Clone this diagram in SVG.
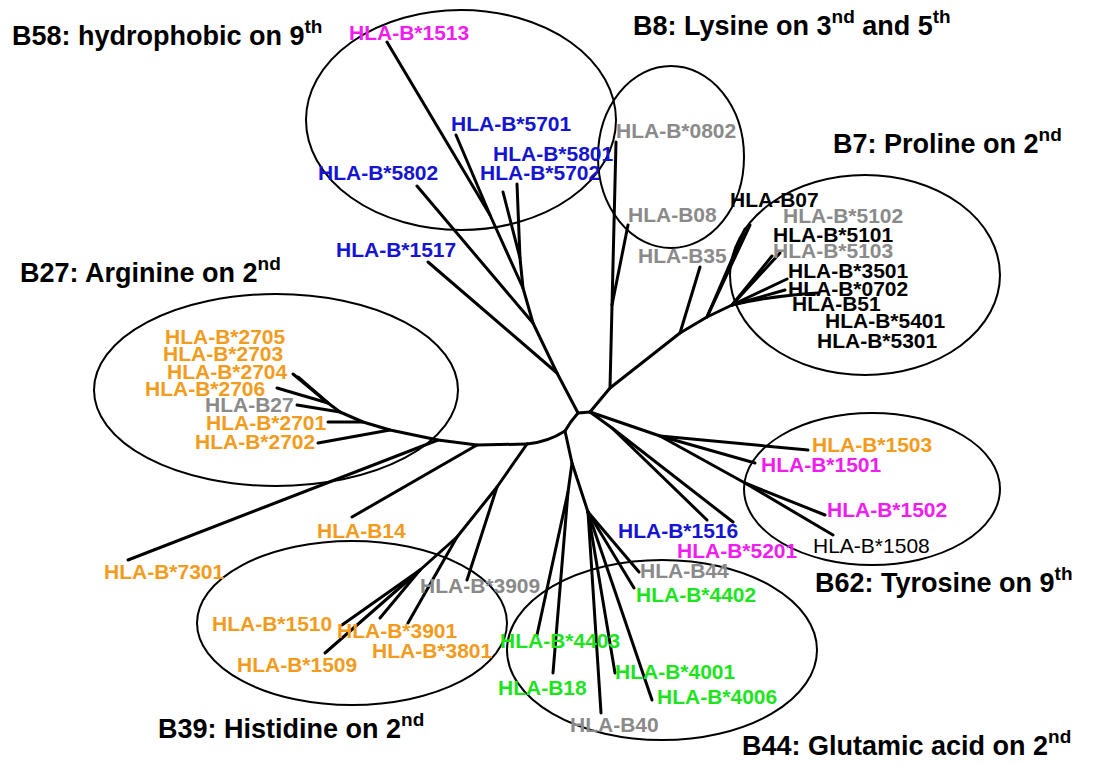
<svg xmlns="http://www.w3.org/2000/svg" width="1093" height="765" viewBox="0 0 1093 765">
<style>
text{font-family:"Liberation Sans",Arial,Helvetica,sans-serif;font-weight:bold}
.t{font-size:27px;fill:#000}
.l{font-size:21px}
.sup{font-size:19px}
.or{fill:#f29b1d}.bl{fill:#1414d2}.mg{fill:#f01cf0}.gr{fill:#1ee41e}.gy{fill:#8a8a8a}.bk{fill:#000}
.reg{font-weight:normal}
.ell{fill:none;stroke:#000;stroke-width:2}
#edges path{fill:none;stroke:#000;stroke-width:3;stroke-linecap:round;stroke-linejoin:round}
</style>
<rect width="1093" height="765" fill="#fff"/>
<g id="clusters">
<ellipse class="ell" cx="461" cy="120" rx="155" ry="110"/>
<ellipse class="ell" cx="671" cy="157" rx="73" ry="91"/>
<ellipse class="ell" cx="865" cy="275" rx="135" ry="100"/>
<ellipse class="ell" cx="276" cy="390" rx="182" ry="96"/>
<ellipse class="ell" cx="352" cy="623" rx="155" ry="82"/>
<ellipse class="ell" cx="662" cy="650" rx="155" ry="90"/>
<ellipse class="ell" cx="872" cy="489" rx="128" ry="76"/>
</g>
<g id="edges">
<path d="M578 413 L590 412"/>
<path d="M578 413 Q570 422 565 431"/>
<path d="M565 431 Q548 442 527 444"/>
<path d="M578 413 L557 373 L533 323 L523 288 L490 215 L387 42"/>
<path d="M490 215 L456 135"/>
<path d="M523 288 L520 258 L503 192"/>
<path d="M520 258 L517 184"/>
<path d="M533 323 L417 186"/>
<path d="M557 373 L428 262"/>
<path d="M590 412 L610 388 L616 142"/>
<path d="M612 305 L628 225"/>
<path d="M610 388 L680 333 L700 267"/>
<path d="M680 333 L707 317 L750 225"/>
<path d="M707 317 L745 229"/>
<path d="M707 317 L732 305 L780 253"/>
<path d="M732 305 L772 256"/>
<path d="M732 305 L787 279"/>
<path d="M732 305 L785 290"/>
<path d="M732 305 Q770 296 818 293"/>
<path d="M590 412 L660 436 L808 450"/>
<path d="M660 436 L755 463"/>
<path d="M660 436 L745 483 L825 515"/>
<path d="M745 483 L833 535"/>
<path d="M590 412 L612 428 L707 520"/>
<path d="M612 428 L733 522"/>
<path d="M527 444 L477 445 L438 440 L390 430 L363 422 L340 412 L328 403 L293 374"/>
<path d="M328 403 L298 377"/>
<path d="M328 403 L277 388"/>
<path d="M340 412 L297 405"/>
<path d="M363 422 L328 422"/>
<path d="M390 430 L318 443"/>
<path d="M438 440 L128 560"/>
<path d="M477 445 L352 517"/>
<path d="M527 444 L497 487 L467 580"/>
<path d="M497 487 L457 537 L408 623"/>
<path d="M457 537 L420 570 L380 618"/>
<path d="M420 570 L342 625"/>
<path d="M420 570 L325 653"/>
<path d="M565 431 L572 463 L568 492 L537 635"/>
<path d="M568 492 L553 673"/>
<path d="M572 463 L588 512 L601 713"/>
<path d="M588 512 L615 673"/>
<path d="M588 512 L652 700"/>
<path d="M588 512 L639 572"/>
<path d="M588 512 L634 588"/>
</g>
<g id="title-b58"><text class="t" x="12" y="45">B58: hydrophobic on 9<tspan class="sup" dy="-12">th</tspan></text></g>
<g id="title-b8"><text class="t" x="633" y="35">B8: Lysine on 3<tspan class="sup" dy="-12">nd</tspan><tspan dy="12"> and 5</tspan><tspan class="sup" dy="-12">th</tspan></text></g>
<g id="title-b7"><text class="t" x="833" y="153">B7: Proline on 2<tspan class="sup" dy="-12">nd</tspan></text></g>
<g id="title-b27"><text class="t" x="20" y="282">B27: Arginine on 2<tspan class="sup" dy="-12">nd</tspan></text></g>
<g id="title-b39"><text class="t" x="158" y="738">B39: Histidine on 2<tspan class="sup" dy="-12">nd</tspan></text></g>
<g id="title-b44"><text class="t" x="742" y="755">B44: Glutamic acid on 2<tspan class="sup" dy="-12">nd</tspan></text></g>
<g id="title-b62"><text class="t" x="815" y="592">B62: Tyrosine on 9<tspan class="sup" dy="-12">th</tspan></text></g>
<g id="n1513"><text class="l mg" x="349" y="40">HLA-B*1513</text></g>
<g id="n5701"><text class="l bl" x="451" y="131">HLA-B*5701</text></g>
<g id="n5801"><text class="l bl" x="493" y="161">HLA-B*5801</text></g>
<g id="n5702"><text class="l bl" x="480" y="180">HLA-B*5702</text></g>
<g id="n5802"><text class="l bl" x="318" y="180">HLA-B*5802</text></g>
<g id="n1517"><text class="l bl" x="336" y="257">HLA-B*1517</text></g>
<g id="n0802"><text class="l gy" x="616" y="138">HLA-B*0802</text></g>
<g id="nB08"><text class="l gy" x="628" y="222">HLA-B08</text></g>
<g id="nB35"><text class="l gy" x="638" y="263">HLA-B35</text></g>
<g id="nB07"><text class="l bk" x="730" y="207">HLA-B07</text></g>
<g id="n5102"><text class="l gy" x="783" y="223">HLA-B*5102</text></g>
<g id="n5101"><text class="l bk" x="773" y="242">HLA-B*5101</text></g>
<g id="n5103"><text class="l gy" x="773" y="258">HLA-B*5103</text></g>
<g id="n3501"><text class="l bk" x="788" y="278">HLA-B*3501</text></g>
<g id="n0702"><text class="l bk" x="788" y="296">HLA-B*0702</text></g>
<g id="nB51"><text class="l bk" x="792" y="311">HLA-B51</text></g>
<g id="n5401"><text class="l bk" x="825" y="328">HLA-B*5401</text></g>
<g id="n5301"><text class="l bk" x="817" y="348">HLA-B*5301</text></g>
<g id="n2705"><text class="l or" x="165" y="344">HLA-B*2705</text></g>
<g id="n2703"><text class="l or" x="163" y="361">HLA-B*2703</text></g>
<g id="n2704"><text class="l or" x="167" y="379">HLA-B*2704</text></g>
<g id="n2706"><text class="l or" x="145" y="396">HLA-B*2706</text></g>
<g id="nB27"><text class="l gy" x="205" y="412">HLA-B27</text></g>
<g id="n2701"><text class="l or" x="206" y="430">HLA-B*2701</text></g>
<g id="n2702"><text class="l or" x="195" y="449">HLA-B*2702</text></g>
<g id="nB14"><text class="l or" x="317" y="538">HLA-B14</text></g>
<g id="n7301"><text class="l or" x="104" y="579">HLA-B*7301</text></g>
<g id="n3909"><text class="l gy" x="420" y="593">HLA-B*3909</text></g>
<g id="n1510"><text class="l or" x="212" y="631">HLA-B*1510</text></g>
<g id="n3901"><text class="l or" x="337" y="638">HLA-B*3901</text></g>
<g id="n3801"><text class="l or" x="372" y="658">HLA-B*3801</text></g>
<g id="n1509"><text class="l or" x="237" y="672">HLA-B*1509</text></g>
<g id="n1516"><text class="l bl" x="618" y="538">HLA-B*1516</text></g>
<g id="n5201"><text class="l mg" x="677" y="558">HLA-B*5201</text></g>
<g id="nB44"><text class="l gy" x="640" y="578">HLA-B44</text></g>
<g id="n4402"><text class="l gr" x="636" y="602">HLA-B*4402</text></g>
<g id="n4403"><text class="l gr" x="500" y="648">HLA-B*4403</text></g>
<g id="n4001"><text class="l gr" x="615" y="679">HLA-B*4001</text></g>
<g id="nB18"><text class="l gr" x="498" y="695">HLA-B18</text></g>
<g id="n4006"><text class="l gr" x="657" y="704">HLA-B*4006</text></g>
<g id="nB40"><text class="l gy" x="570" y="732">HLA-B40</text></g>
<g id="n1503"><text class="l or" x="812" y="452">HLA-B*1503</text></g>
<g id="n1501"><text class="l mg" x="761" y="472">HLA-B*1501</text></g>
<g id="n1502"><text class="l mg" x="827" y="517">HLA-B*1502</text></g>
<g id="n1508"><text class="l bk reg" x="813" y="553">HLA-B*1508</text></g>
</svg>
